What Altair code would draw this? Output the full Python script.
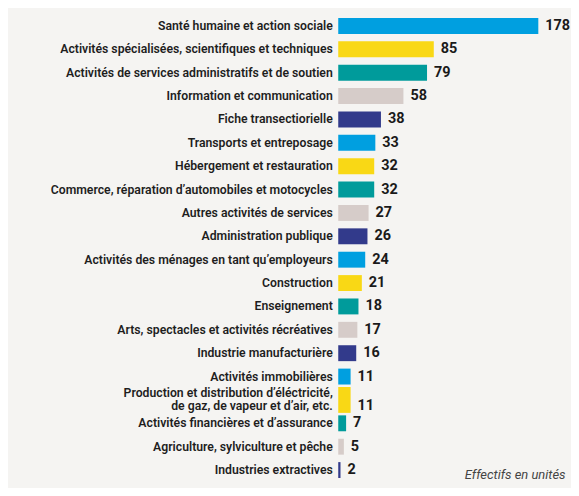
import altair as alt
import pandas as pd

categories = [
    "Santé humaine et action sociale",
    "Activités spécialisées, scientifiques et techniques",
    "Activités de services administratifs et de soutien",
    "Information et communication",
    "Fiche transectiorielle",
    "Transports et entreposage",
    "Hébergement et restauration",
    "Commerce, réparation d’automobiles et motocycles",
    "Autres activités de services",
    "Administration publique",
    "Activités des ménages en tant qu’employeurs",
    "Construction",
    "Enseignement",
    "Arts, spectacles et activités récréatives",
    "Industrie manufacturière",
    "Activités immobilières",
    "Production et distribution d’éléctricité,|de gaz, de vapeur et d’air, etc.",
    "Activités financières et d’assurance",
    "Agriculture, sylviculture et pêche",
    "Industries extractives",
]
values = [178, 85, 79, 58, 38, 33, 32, 32, 27, 26, 24, 21, 18, 17, 16, 11, 11, 7, 5, 2]
palette = ["#009FE0", "#F9D815", "#009B9B", "#D6CCC9", "#323A8B"]
unit_note = "Effectifs en unités"

df = pd.DataFrame({"cat": categories, "val": values})
colors = [palette[i % len(palette)] for i in range(len(categories))]
tall = categories[16]

W = 226
H = 470

base = alt.Chart(df).encode(
    y=alt.Y(
        "cat:N",
        sort=categories,
        title=None,
        scale=alt.Scale(paddingInner=0.32, paddingOuter=0.16),
        axis=alt.Axis(
            labelExpr="split(datum.label, '|')",
            labelFont="Roboto",
            labelFontSize=12.3,
            labelFontWeight=600,
            labelColor="#1e1e1e",
            labelPadding=6,
            labelLimit=400,
            labelLineHeight=13,
            labelOffset={"condition": {"test": "indexof(datum.value, '|') >= 0", "value": -6.5}, "value": 0},
            ticks=False,
            domain=False,
            grid=False,
            minExtent=332,
            maxExtent=332,
        ),
    )
)

bars = base.mark_bar().encode(
    x=alt.X(
        "val:Q",
        scale=alt.Scale(domain=[0, 200], nice=False),
        axis=alt.Axis(
            labels=False,
            ticks=False,
            domain=False,
            grid=False,
            title=unit_note,
            titleFont="Roboto",
            titleFontSize=13,
            titleFontStyle="italic",
            titleFontWeight="normal",
            titleColor="#444444",
            titleAlign="right",
            titleBaseline="alphabetic",
            titleX=W + 2,
            titleY=-3,
        ),
    ),
    color=alt.Color("cat:N", scale=alt.Scale(domain=categories, range=colors), legend=None),
    size=alt.condition(alt.datum.cat == tall, alt.value(26), alt.value(16)),
)

text_style = dict(align="left", baseline="middle", dx=7, font="Roboto", fontSize=14.5,
                  fontWeight="bold", color="#1a1a1a")

labels = base.mark_text(**text_style).encode(
    x=alt.X("val:Q"),
    text=alt.Text("val:Q"),
).transform_filter(alt.datum.cat != tall)

labels_tall = base.mark_text(dy=6, **text_style).encode(
    x=alt.X("val:Q"),
    text=alt.Text("val:Q"),
).transform_filter(alt.datum.cat == tall)

chart = (
    alt.layer(bars, labels, labels_tall)
    .properties(width=W, height=H, padding={"left": 0, "top": 5, "right": 0, "bottom": 5})
    .configure(background="#F5F4F2")
    .configure_view(stroke=None)
)

chart.save("out.html", embed_options={"renderer": "svg", "actions": False})
